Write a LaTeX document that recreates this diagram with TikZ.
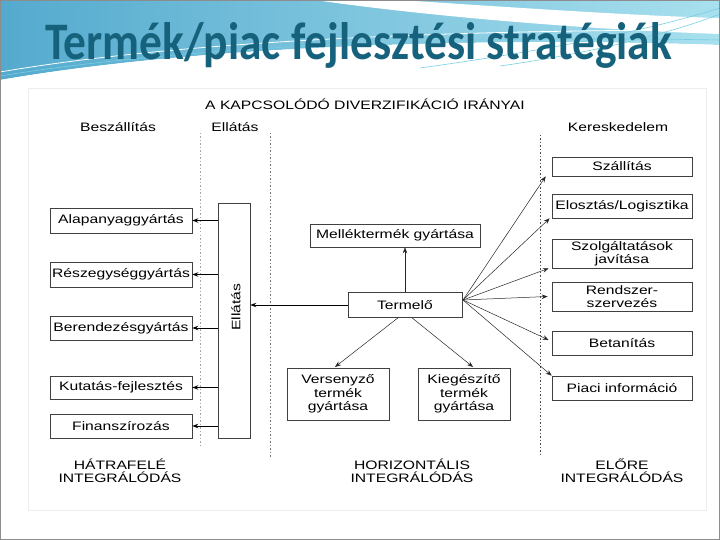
\documentclass[tikz,border=0pt]{standalone}
\usepackage{fontspec}
\usetikzlibrary{arrows.meta}
\setmainfont{Liberation Sans}
\newfontfamily\diagfont{Liberation Sans}[FakeStretch=1.28]
\newfontfamily\titlefont{Carlito}
\definecolor{titlecol}{RGB}{22,98,124}
\definecolor{bannerA}{RGB}{84,170,206}
\definecolor{bannerB}{RGB}{168,224,238}
\definecolor{swoosh}{RGB}{120,205,225}
\begin{document}
\begin{tikzpicture}[x=1bp,y=-1bp,
  dfont/.style={font=\diagfont\fontsize{12.3}{13.5}\selectfont},
  box/.style={draw=black!75, line width=0.6bp, inner sep=0pt, align=center, dfont},
  lbl/.style={inner sep=0pt, align=center, dfont},
  arr/.style={-{Stealth[length=6bp,width=4.5bp]}, line width=0.9bp, black},
  fan/.style={-{Stealth[length=6bp,width=4.5bp]}, line width=0.5bp, black!85},
  guide/.style={line width=0.8bp, black!55, dash pattern=on 1.5bp off 2bp}
]
\useasboundingbox (0,0) rectangle (720,540);
\fill[white] (0,0) rectangle (720,540);
% banner
\shade[left color=bannerA, right color=bannerB]
  (0,0) -- (720,0) -- (720,45) .. controls (520,38) and (220,42) .. (0,80) -- cycle;
\fill[white] (315,0) -- (400,0) .. controls (520,8) and (640,16) .. (720,18)
  -- (720,34) .. controls (600,30) and (440,18) .. (315,0) -- cycle;
\fill[white] (0,80) .. controls (220,42) and (520,38) .. (720,45) -- (720,60)
  .. controls (520,50) and (220,55) .. (0,90) -- cycle;
\draw[white, line width=0.8bp] (0,72) .. controls (200,38) and (480,30) .. (720,30);
\draw[swoosh, line width=0.6bp] (0,76) .. controls (210,42) and (500,36) .. (720,40);
\draw[swoosh, line width=0.6bp] (420,68) .. controls (550,50) and (650,30) .. (720,8);
\draw[swoosh, line width=0.6bp] (500,66) .. controls (600,52) and (680,30) .. (720,14);
% slide border
\draw[black!45, line width=1bp] (0.5,0.5) rectangle (719.5,539.5);
% title
\node[anchor=base west, inner sep=0pt, text=titlecol] (title) at (45,60)
  {\resizebox{627bp}{37bp}{\titlefont\bfseries Termék/piac fejlesztési stratégiák}};
% scanned image frame
\draw[black!7, line width=0.8bp] (28,88) rectangle (706,510);
% guide lines
\coordinate (g1a) at (200,133); \coordinate (g1b) at (200,445);
\coordinate (g2a) at (270,133); \coordinate (g2b) at (270,458);
\coordinate (g3a) at (540,135); \coordinate (g3b) at (540,455);
\draw[guide, black!35] (g1a) -- (g1b);
\draw[guide] (g2a) -- (g2b);
\draw[guide, black!70] (g3a) -- (g3b);
% top labels
\node[lbl] (head) at (365,104) {A KAPCSOLÓDÓ DIVERZIFIKÁCIÓ IRÁNYAI};
\node[lbl] (besz) at (118,127) {Beszállítás};
\node[lbl] (ellt) at (235,127) {Ellátás};
\node[lbl] (keres) at (618,127) {Kereskedelem};
% left boxes
\node[box, minimum width=142bp, minimum height=25bp] (alap) at (121,220.5) {Alapanyaggyártás};
\node[box, minimum width=142bp, minimum height=25bp] (resz) at (121,274.5) {Részegységgyártás};
\node[box, minimum width=142bp, minimum height=24bp] (beren) at (121,328) {Berendezésgyártás};
\node[box, minimum width=142bp, minimum height=23bp] (kutat) at (121,387.5) {Kutatás-fejlesztés};
\node[box, minimum width=142bp, minimum height=24bp] (finan) at (121,426) {Finanszírozás};
% Ellatas box
\node[box, minimum width=32bp, minimum height=235bp] (ellbox) at (234,320.5) {};
\node[lbl, rotate=90] (elltext) at (236,307) {Ellátás};
\foreach \b in {alap,resz,beren,kutat,finan}
  \draw[arr] (ellbox.west |- \b.east) -- (\b.east);
% centre
\node[box, minimum width=114bp, minimum height=25bp] (termelo) at (405,305) {Termelő};
\node[box, minimum width=170bp, minimum height=23bp] (mell) at (395,235.5) {Melléktermék gyártása};
\node[box, minimum width=102bp, minimum height=52bp] (verseny) at (338,394) {Versenyző\\termék\\gyártása};
\node[box, minimum width=92bp, minimum height=52bp] (kieg) at (464,394) {Kiegészítő\\termék\\gyártása};
\draw[arr] (termelo.west) -- (ellbox.east |- termelo.west);
\draw[fan] (termelo.north) -- (termelo.north |- mell.south);
\draw[fan] (termelo.south -| 398,0) -- (335,367);
\draw[fan] (termelo.south -| 412,0) -- (473,367);
% right boxes
\node[box, minimum width=140bp, minimum height=19bp] (szall) at (622,166.5) {Szállítás};
\node[box, minimum width=140bp, minimum height=24bp] (elosz) at (622,206) {Elosztás/Logisztika};
\node[box, minimum width=140bp, minimum height=29bp] (szolg) at (622,253.5) {Szolgáltatások\\javítása};
\node[box, minimum width=140bp, minimum height=29bp] (rendsz) at (622,296.5) {Rendszer-\\szervezés};
\node[box, minimum width=140bp, minimum height=24bp] (betan) at (622,343) {Betanítás};
\node[box, minimum width=140bp, minimum height=24bp] (piaci) at (622,388) {Piaci információ};
\coordinate (hub) at (463,300);
\draw[fan] (hub) -- ([xshift=-6bp]szall.south west);
\draw[fan] (hub) -- ([xshift=-2bp]elosz.south west);
\draw[fan] (hub) -- ([xshift=-3bp]szolg.south west);
\draw[fan] (hub) -- ([xshift=-4bp]rendsz.west);
\draw[fan] (hub) -- ([xshift=-3bp,yshift=3bp]betan.west);
\draw[fan] (hub) -- (piaci.north west);
% bottom labels
\node[lbl] (hatra) at (120,470.5) {HÁTRAFELÉ\\INTEGRÁLÓDÁS};
\node[lbl] (horiz) at (412,470.5) {HORIZONTÁLIS\\INTEGRÁLÓDÁS};
\node[lbl] (elore) at (622,470.5) {ELŐRE\\INTEGRÁLÓDÁS};
\end{tikzpicture}
\end{document}
